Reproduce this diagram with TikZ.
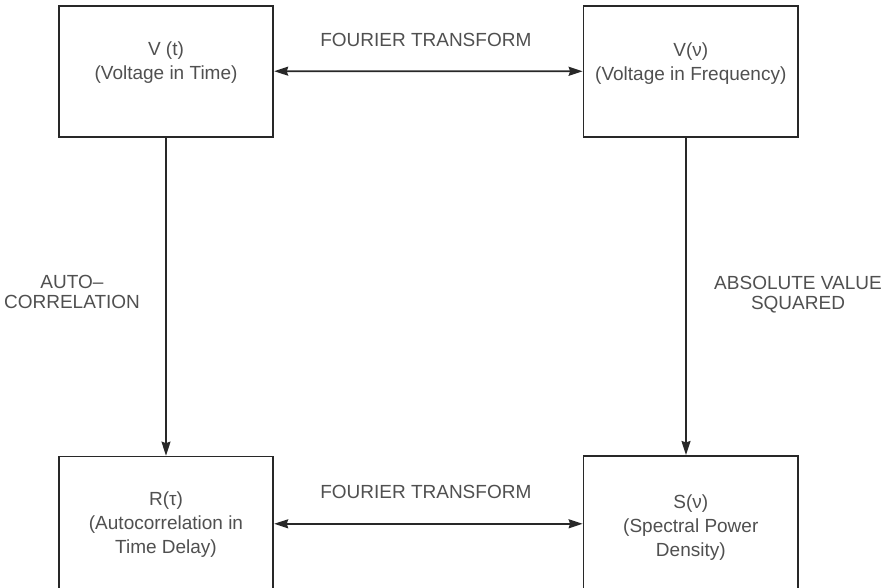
\documentclass[tikz,border=0pt]{standalone}
\usepackage{fontspec}
\setmainfont{Liberation Sans}
\usetikzlibrary{arrows.meta}
\definecolor{linec}{RGB}{40,40,40}
\definecolor{textc}{RGB}{80,80,80}
\begin{document}
\begin{tikzpicture}[x=1pt,y=-1pt,
  box/.style={draw=linec,line width=1.8pt,minimum width=214.6pt,minimum height=131pt,inner sep=0pt},
  lbl/.style={text=textc,font=\fontsize{19}{24}\selectfont,align=center,inner sep=0pt,anchor=base},
  sidelbl/.style={text=textc,font=\fontsize{19}{20}\selectfont,align=center,inner sep=0pt,anchor=base},
  arr/.style={draw=linec,line width=1.6pt,-{Stealth[length=14pt,width=9pt,inset=1.5pt]}},
  twoway/.style={draw=linec,line width=1.6pt,{Stealth[length=14pt,width=9pt,inset=1.5pt]}-{Stealth[length=14pt,width=9pt,inset=1.5pt]}}]
\useasboundingbox (0,0) rectangle (888,588);
\clip (0,0) rectangle (888,588);
\fill[white] (0,0) rectangle (888,588);
\node[box] (tl) at (166,71.2) {};
\node[box,minimum height=130.7pt] (tr) at (690.8,71.3) {};
\node[box,minimum height=134.5pt] (bl) at (166,523.8) {};
\node[box,minimum height=135.3pt] (br) at (690.8,523.5) {};
\node[lbl] (tlt) at (166,80) {V (t)\\(Voltage in Time)};
\node[lbl] (trt) at (690.8,80.5) {V(ν)\\(Voltage in Frequency)};
\node[lbl] (blt) at (166,553.5) {R(τ)\\(Autocorrelation in\\Time Delay)};
\node[lbl] (brt) at (690.8,556.5) {S(ν)\\(Spectral Power\\Density)};
\node[lbl] (ft1) at (425.8,46.7) {FOURIER TRANSFORM};
\node[lbl] (ft2) at (425.8,498.3) {FOURIER TRANSFORM};
\node[sidelbl] (ac) at (72,308.3) {AUTO–\\CORRELATION};
\node[sidelbl] (av) at (798,309) {ABSOLUTE VALUE\\SQUARED};
\coordinate (rx) at (686,0);
\draw[twoway] (tl.east) -- (tr.west);
\draw[twoway] (bl.east) -- (bl.east -| br.west);
\draw[arr] (tl.south) -- (bl.north);
\draw[arr] (tr.south -| rx) -- (br.north -| rx);
\end{tikzpicture}
\end{document}
